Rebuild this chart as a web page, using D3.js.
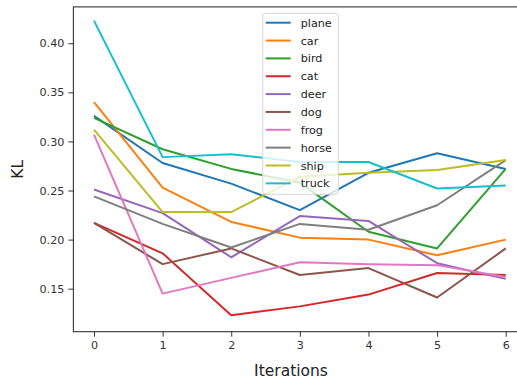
<!DOCTYPE html>
<html>
<head>
<meta charset="utf-8">
<script src="https://cdn.jsdelivr.net/npm/d3@7"></script>
<style>
    html, body { margin: 0; padding: 0; background: #fff; }
    text { font-family: "DejaVu Sans", sans-serif; }
</style>
</head>
<body>
<div id="chart"></div>
<script>
// Data
const iterations = [0, 1, 2, 3, 4, 5, 6];
const classNames = ['plane', 'car', 'bird', 'cat', 'deer', 'dog', 'frog', 'horse', 'ship', 'truck'];

const plane = [0.326, 0.278, 0.257, 0.230, 0.268, 0.288, 0.272];
const car   = [0.340, 0.253, 0.218, 0.202, 0.200, 0.184, 0.200];
const bird  = [0.324, 0.292, 0.272, 0.258, 0.208, 0.191, 0.272];
const cat   = [0.217, 0.186, 0.123, 0.132, 0.144, 0.166, 0.164];
const deer  = [0.251, 0.227, 0.182, 0.224, 0.219, 0.176, 0.160];
const dog   = [0.217, 0.175, 0.191, 0.164, 0.171, 0.141, 0.191];
const frog  = [0.307, 0.145, 0.161, 0.177, 0.175, 0.174, 0.162];
const horse = [0.244, 0.216, 0.192, 0.216, 0.210, 0.235, 0.281];
const ship  = [0.312, 0.228, 0.228, 0.264, 0.268, 0.271, 0.281];
const truck = [0.423, 0.284, 0.287, 0.279, 0.279, 0.252, 0.255];

const xTicks = [0, 1, 2, 3, 4, 5, 6];
const yTicks = [0.15, 0.20, 0.25, 0.30, 0.35, 0.40];

const seriesValues = [plane, car, bird, cat, deer, dog, frog, horse, ship, truck];

// matplotlib tab10
const colors = ['#1f77b4', '#ff7f0e', '#2ca02c', '#d62728', '#9467bd',
                '#8c564b', '#e377c2', '#7f7f7f', '#bcbd22', '#17becf'];

const width = 517, height = 379;
// Axes box (the right part runs off the picture, as in the original)
const box = { left: 73.4, right: 526.3, top: 6.9, bottom: 331.7 };

const svg = d3.select('#chart')
    .append('svg')
    .attr('width', width)
    .attr('height', height);

// Scales
const xScale = d3.scaleLinear().domain([-0.3, 6.3]).range([box.left, box.right]);
const yScale = d3.scaleLinear().domain([0.1062, 0.437]).range([box.bottom, box.top]);

// Lines
const line = d3.line()
    .x((d, i) => xScale(iterations[i]))
    .y(d => yScale(d));

svg.append('g')
    .attr('class', 'lines')
    .selectAll('path')
    .data(seriesValues)
    .join('path')
    .attr('fill', 'none')
    .attr('stroke', (d, i) => colors[i])
    .attr('stroke-width', 2)
    .attr('stroke-linejoin', 'round')
    .attr('d', line);

// Axes
const xAxis = d3.axisBottom(xScale).tickValues(xTicks).tickSize(5).tickPadding(4.5)
    .tickFormat(d3.format('d'));
const yAxis = d3.axisLeft(yScale).tickValues(yTicks).tickSize(5).tickPadding(4)
    .tickFormat(d3.format('.2f'));

const xAxisGroup = svg.append('g')
    .attr('transform', `translate(0, ${box.bottom})`)
    .call(xAxis);
const yAxisGroup = svg.append('g')
    .attr('transform', `translate(${box.left}, 0)`)
    .call(yAxis);

[xAxisGroup, yAxisGroup].forEach(g => {
    g.select('.domain').remove();
    g.selectAll('.tick line').attr('stroke', '#333').attr('stroke-width', 1);
    g.selectAll('.tick text')
        .attr('fill', '#333')
        .style('font-size', '11.2px')
        .style('font-family', '"DejaVu Sans", sans-serif');
});

// Spines
svg.append('rect')
    .attr('x', box.left)
    .attr('y', box.top)
    .attr('width', box.right - box.left)
    .attr('height', box.bottom - box.top)
    .attr('fill', 'none')
    .attr('stroke', '#333')
    .attr('stroke-width', 1.1);

// Axis labels
svg.append('text')
    .attr('x', 291)
    .attr('y', 376)
    .attr('text-anchor', 'middle')
    .attr('fill', '#222')
    .style('font-size', '15.5px')
    .text('Iterations');

svg.append('text')
    .attr('transform', `translate(23, ${(box.top + box.bottom) / 2}) rotate(-90)`)
    .attr('text-anchor', 'middle')
    .attr('fill', '#222')
    .style('font-size', '15.5px')
    .text('KL');

// Legend
const legend = svg.append('g').attr('class', 'legend');
legend.append('rect')
    .attr('x', 262.7)
    .attr('y', 13.3)
    .attr('width', 75.6)
    .attr('height', 181)
    .attr('rx', 3)
    .attr('fill', '#fff')
    .attr('fill-opacity', 0.8)
    .attr('stroke', '#d5d5d5')
    .attr('stroke-width', 1);

const entries = legend.selectAll('g.entry')
    .data(classNames)
    .join('g')
    .attr('class', 'entry')
    .attr('transform', (d, i) => `translate(0, ${22.7 + i * 17.85})`);

entries.append('line')
    .attr('x1', 265.7)
    .attr('x2', 290.7)
    .attr('stroke', (d, i) => colors[i])
    .attr('stroke-width', 2);

entries.append('text')
    .attr('x', 300.7)
    .attr('dy', '0.36em')
    .attr('fill', '#222')
    .style('font-size', '11.2px')
    .text(d => d);
</script>
</body>
</html>
